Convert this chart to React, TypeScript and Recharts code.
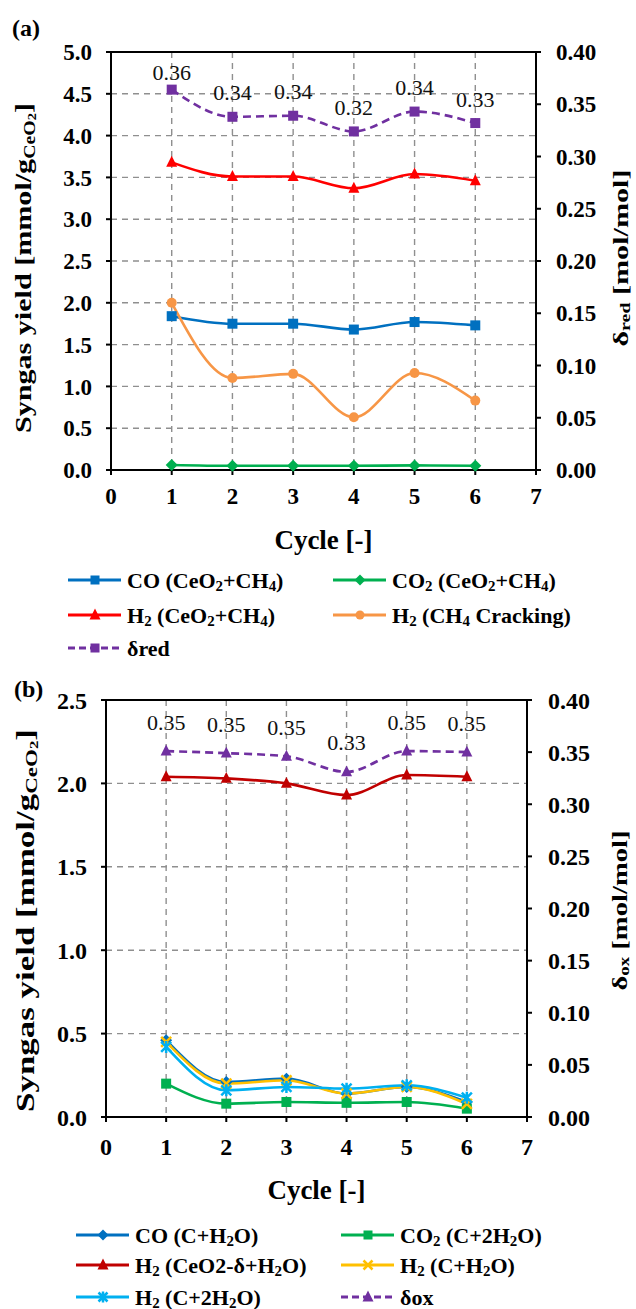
import { LineChart, Line, XAxis, YAxis, CartesianGrid, ReferenceLine, LabelList } from "recharts";

const SERIF = '"Liberation Serif", "Times New Roman", serif';

const cycles = [1, 2, 3, 4, 5, 6];
const cycleTicks = [0, 1, 2, 3, 4, 5, 6, 7];
const deltaTicks = [0, 0.05, 0.1, 0.15, 0.2, 0.25, 0.3, 0.35, 0.4];

// (a) CH4 reduction step, yields in mmol/g CeO2
const yieldTicksA = [0, 0.5, 1, 1.5, 2, 2.5, 3, 3.5, 4, 4.5, 5];
const coRed = [1.84, 1.75, 1.75, 1.68, 1.77, 1.73];
const co2Red = [0.06, 0.05, 0.05, 0.05, 0.055, 0.05];
const h2Red = [3.68, 3.51, 3.51, 3.37, 3.54, 3.46];
const h2Cracking = [2.0, 1.1, 1.15, 0.63, 1.16, 0.83];
const deltaRed = [0.364, 0.338, 0.339, 0.324, 0.343, 0.332];

// (b) H2O oxidation step
const yieldTicksB = [0, 0.5, 1, 1.5, 2, 2.5];
const coOx = [0.46, 0.21, 0.23, 0.14, 0.18, 0.09];
const co2Ox = [0.2, 0.08, 0.09, 0.085, 0.09, 0.05];
const h2Ceria = [2.04, 2.03, 2.0, 1.93, 2.05, 2.04];
const h2Carbon = [0.45, 0.2, 0.22, 0.14, 0.18, 0.078];
const h2Carbon2 = [0.42, 0.16, 0.18, 0.17, 0.19, 0.116];
const deltaOx = [0.351, 0.349, 0.346, 0.331, 0.351, 0.35];

type Shape = "square" | "diamond" | "triangle" | "circle" | "cross" | "star";

type Series = {
  key: string;
  name: string;
  color: string;
  shape: Shape;
  axis: "left" | "right";
  dashed?: boolean;
};

const seriesA: Series[] = [
  { key: "co", name: "CO (CeO_2+CH_4)", color: "#0070C0", shape: "square", axis: "left" },
  { key: "co2", name: "CO_2 (CeO_2+CH_4)", color: "#00B050", shape: "diamond", axis: "left" },
  { key: "h2", name: "H_2 (CeO_2+CH_4)", color: "#FF0000", shape: "triangle", axis: "left" },
  { key: "h2Crack", name: "H_2 (CH_4 Cracking)", color: "#F79646", shape: "circle", axis: "left" },
  { key: "delta", name: "δred", color: "#7030A0", shape: "square", axis: "right", dashed: true },
];

const seriesB: Series[] = [
  { key: "co", name: "CO (C+H_2O)", color: "#0070C0", shape: "diamond", axis: "left" },
  { key: "co2", name: "CO_2 (C+2H_2O)", color: "#00B050", shape: "square", axis: "left" },
  { key: "h2Ceria", name: "H_2 (CeO2-δ+H_2O)", color: "#C00000", shape: "triangle", axis: "left" },
  { key: "h2C", name: "H_2 (C+H_2O)", color: "#FFC000", shape: "cross", axis: "left" },
  { key: "h2C2", name: "H_2 (C+2H_2O)", color: "#00B0F0", shape: "star", axis: "left" },
  { key: "delta", name: "δox", color: "#7030A0", shape: "triangle", axis: "right", dashed: true },
];

const rowsA = cycles.map((cycle, i) => ({
  cycle,
  co: coRed[i],
  co2: co2Red[i],
  h2: h2Red[i],
  h2Crack: h2Cracking[i],
  delta: deltaRed[i],
}));

const rowsB = cycles.map((cycle, i) => ({
  cycle,
  co: coOx[i],
  co2: co2Ox[i],
  h2Ceria: h2Ceria[i],
  h2C: h2Carbon[i],
  h2C2: h2Carbon2[i],
  delta: deltaOx[i],
}));

function Marker({ shape, x, y, color, size = 10 }: { shape: Shape; x: number; y: number; color: string; size?: number }) {
  const r = size / 2;
  switch (shape) {
    case "square":
      return <rect x={x - r} y={y - r} width={size} height={size} fill={color} />;
    case "diamond":
      return <polygon points={`${x},${y - r - 1} ${x + r + 1},${y} ${x},${y + r + 1} ${x - r - 1},${y}`} fill={color} />;
    case "triangle":
      return <polygon points={`${x},${y - r - 1} ${x + r},${y + r * 0.8} ${x - r},${y + r * 0.8}`} fill={color} />;
    case "circle":
      return <circle cx={x} cy={y} r={r} fill={color} />;
    case "cross":
      return (
        <path
          d={`M${x - r},${y - r}L${x + r},${y + r}M${x + r},${y - r}L${x - r},${y + r}`}
          stroke={color}
          strokeWidth={2.5}
        />
      );
    case "star":
      return (
        <path
          d={`M${x - r},${y - r}L${x + r},${y + r}M${x + r},${y - r}L${x - r},${y + r}M${x},${y - r - 1}L${x},${y + r + 1}`}
          stroke={color}
          strokeWidth={2.5}
        />
      );
  }
  return null;
}

// "_2" or "_{red}" become subscripts
function richText(label: string, size: number) {
  const parts = label.split(/(_\{[^}]*\}|_\w)/).filter(Boolean);
  const shift = size * 0.25;
  let lowered = false;
  return parts.map((p, i) => {
    if (p.startsWith("_")) {
      const txt = p.startsWith("_{") ? p.slice(2, -1) : p.slice(1);
      const el = (
        <tspan key={i} fontSize={size * 0.68} dy={lowered ? 0 : shift}>
          {txt}
        </tspan>
      );
      lowered = true;
      return el;
    }
    const el = (
      <tspan key={i} dy={lowered ? -shift : 0}>
        {p}
      </tspan>
    );
    lowered = false;
    return el;
  });
}

const axisStroke = { stroke: "#000", strokeWidth: 2 };

type PanelProps = {
  rows: Record<string, number>[];
  series: Series[];
  yMax: number;
  yTicks: number[];
  height: number;
  marginTop: number;
  leftWidth: number;
  rightWidth: number;
  xAxisHeight: number;
  xTickMargin: number;
  rightTickMargin: number;
  tickSize: number;
  yTitleX: number;
  yTitleDy: number;
  yTitleLength: number;
  titleSize: number;
  deltaSub: string;
  dTitleX: number;
  dTitleDy: number;
  dTitleLength: number;
  cycleDy: number;
  labelLift: number;
};

function Panel(p: PanelProps) {
  const tickFont = { fill: "#000", fontSize: p.tickSize, fontWeight: 700, fontFamily: SERIF };
  const plotTop = p.marginTop;

  const yieldTitle = ({ viewBox }: any) => {
    const cx = viewBox.x + p.yTitleX;
    const cy = viewBox.y + viewBox.height / 2 + p.yTitleDy;
    const s = p.titleSize;
    return (
      <text
        x={cx}
        y={cy}
        transform={`rotate(-90 ${cx} ${cy})`}
        textAnchor="middle"
        dominantBaseline="central"
        fontFamily={SERIF}
        fontWeight={700}
        fontSize={s}
        fill="#000"
        textLength={p.yTitleLength}
        lengthAdjust="spacingAndGlyphs"
      >
        Syngas yield [mmol/g
        <tspan fontSize={s * 0.66} dy={s * 0.25}>
          CeO
        </tspan>
        <tspan fontSize={s * 0.48} dy={s * 0.12}>
          2
        </tspan>
        <tspan dy={-s * 0.37}>]</tspan>
      </text>
    );
  };

  // right-hand title sits against the page edge
  const deltaTitle = ({ viewBox }: any) => {
    const cx = viewBox.x + p.dTitleX;
    const cy = viewBox.y + viewBox.height / 2 + p.dTitleDy;
    const s = 22;
    return (
      <text
        x={cx}
        y={cy}
        transform={`rotate(-90 ${cx} ${cy})`}
        textAnchor="middle"
        dominantBaseline="central"
        fontFamily={SERIF}
        fontWeight={700}
        fontSize={s}
        fill="#000"
        textLength={p.dTitleLength}
        lengthAdjust="spacingAndGlyphs"
      >
        δ
        <tspan fontSize={s * 0.66} dy={s * 0.22}>
          {p.deltaSub}
        </tspan>
        <tspan dy={-s * 0.22}> [mol/mol]</tspan>
      </text>
    );
  };

  const cycleTitle = ({ viewBox }: any) => (
    <text
      x={viewBox.x + viewBox.width / 2}
      y={viewBox.y + p.cycleDy}
      textAnchor="middle"
      dominantBaseline="central"
      fontFamily={SERIF}
      fontWeight={700}
      fontSize={27}
      fill="#000"
    >
      Cycle [-]
    </text>
  );

  const deltaLabel = (props: any) => {
    const { x, y, value, index } = props;
    if (x == null || y == null) return null;
    const ly = Math.max(y - p.labelLift, plotTop + 20);
    return (
      <text
        key={`dl-${index}`}
        x={x}
        y={ly}
        textAnchor="middle"
        dominantBaseline="central"
        fontFamily={SERIF}
        fontSize={22}
        fill="#111"
      >
        {Number(value).toFixed(2)}
      </text>
    );
  };

  return (
    <LineChart
      width={636}
      height={p.height}
      data={p.rows}
      margin={{ top: p.marginTop, right: 0, bottom: 0, left: 0 }}
    >
      <CartesianGrid yAxisId="left" stroke="#8f8f8f" strokeWidth={1.4} strokeDasharray="6 5" />
      <XAxis
        dataKey="cycle"
        type="number"
        domain={[0, 7]}
        ticks={cycleTicks}
        interval={0}
        height={p.xAxisHeight}
        axisLine={axisStroke}
        tickLine={axisStroke}
        tickSize={5}
        tickMargin={p.xTickMargin}
        tick={tickFont}
        label={cycleTitle}
      />
      <YAxis
        yAxisId="left"
        domain={[0, p.yMax]}
        ticks={p.yTicks}
        interval={0}
        width={p.leftWidth}
        axisLine={axisStroke}
        tickLine={axisStroke}
        tickSize={5}
        tickMargin={14}
        tick={tickFont}
        tickFormatter={(v: number) => v.toFixed(1)}
        label={yieldTitle}
      />
      <YAxis
        yAxisId="right"
        orientation="right"
        domain={[0, 0.4]}
        ticks={deltaTicks}
        interval={0}
        width={p.rightWidth}
        axisLine={axisStroke}
        tickLine={axisStroke}
        tickSize={5}
        tickMargin={p.rightTickMargin}
        tick={tickFont}
        tickFormatter={(v: number) => v.toFixed(2)}
        label={deltaTitle}
      />
      <ReferenceLine yAxisId="left" y={p.yMax} stroke="#000" strokeWidth={2} />
      {p.series.map((s) => (
        <Line
          key={s.key}
          yAxisId={s.axis}
          dataKey={s.key}
          type="monotone"
          stroke={s.color}
          strokeWidth={2.6}
          strokeDasharray={s.dashed ? "8 5" : undefined}
          isAnimationActive={false}
          activeDot={false}
          dot={(d: any) => (
            <Marker key={`${s.key}-${d.index}`} shape={s.shape} x={d.cx} y={d.cy} color={s.color} size={s.shape === "triangle" ? 11 : 10} />
          )}
        >
          {s.key === "delta" && <LabelList dataKey="delta" content={deltaLabel} />}
        </Line>
      ))}
    </LineChart>
  );
}

function LegendBox({ series, cols, rows, textSize }: { series: Series[]; cols: number[]; rows: number[]; textSize: number }) {
  return (
    <svg width={636} height={100} style={{ display: "block" }}>
      {series.map((s, i) => {
        const x = cols[i % 2];
        const y = rows[Math.floor(i / 2)];
        return (
          <g key={s.key}>
            <line
              x1={x}
              x2={x + 53}
              y1={y}
              y2={y}
              stroke={s.color}
              strokeWidth={3}
              strokeDasharray={s.dashed ? "7 4" : undefined}
            />
            <Marker shape={s.shape} x={x + 27} y={y} color={s.color} size={s.shape === "triangle" ? 11 : 9} />
            <text
              x={x + 59}
              y={y}
              dominantBaseline="central"
              fontFamily={SERIF}
              fontWeight={700}
              fontSize={textSize}
              fill="#000"
            >
              {richText(s.name, textSize)}
            </text>
          </g>
        );
      })}
    </svg>
  );
}

const panelTag = { position: "absolute" as const, fontFamily: SERIF, fontWeight: 700, fontSize: 24, color: "#000" };

export default function App() {
  return (
    <div style={{ position: "absolute", left: 0, top: 0, width: 636, height: 1309, background: "#fff", overflow: "hidden" }}>
      <div style={{ position: "absolute", left: 0, top: 0 }}>
        <Panel
          rows={rowsA}
          series={seriesA}
          yMax={5}
          yTicks={yieldTicksA}
          height={560}
          marginTop={52}
          leftWidth={111}
          rightWidth={100}
          xAxisHeight={90}
          xTickMargin={13}
          rightTickMargin={15}
          tickSize={23}
          yTitleX={23}
          yTitleDy={7}
          yTitleLength={330}
          titleSize={24}
          deltaSub="red"
          dTitleX={84}
          dTitleDy={-3}
          dTitleLength={177}
          cycleDy={70}
          labelLift={24}
        />
      </div>
      <div style={{ position: "absolute", left: 0, top: 562 }}>
        <LegendBox series={seriesA} cols={[68, 333]} rows={[18, 53, 86]} textSize={22} />
      </div>
      <div style={{ position: "absolute", left: 0, top: 650 }}>
        <Panel
          rows={rowsB}
          series={seriesB}
          yMax={2.5}
          yTicks={yieldTicksB}
          height={567}
          marginTop={50}
          leftWidth={106}
          rightWidth={109}
          xAxisHeight={100}
          xTickMargin={16}
          rightTickMargin={16}
          tickSize={24}
          yTitleX={25}
          yTitleDy={12}
          yTitleLength={383}
          titleSize={25}
          deltaSub="ox"
          dTitleX={92}
          dTitleDy={2}
          dTitleLength={160}
          cycleDy={73}
          labelLift={29}
        />
      </div>
      <div style={{ position: "absolute", left: 0, top: 1215 }}>
        <LegendBox series={seriesB} cols={[76, 341]} rows={[20, 50, 82]} textSize={22} />
      </div>
      <div style={{ ...panelTag, left: 12, top: 15 }}>(a)</div>
      <div style={{ ...panelTag, left: 14, top: 676 }}>(b)</div>
    </div>
  );
}
